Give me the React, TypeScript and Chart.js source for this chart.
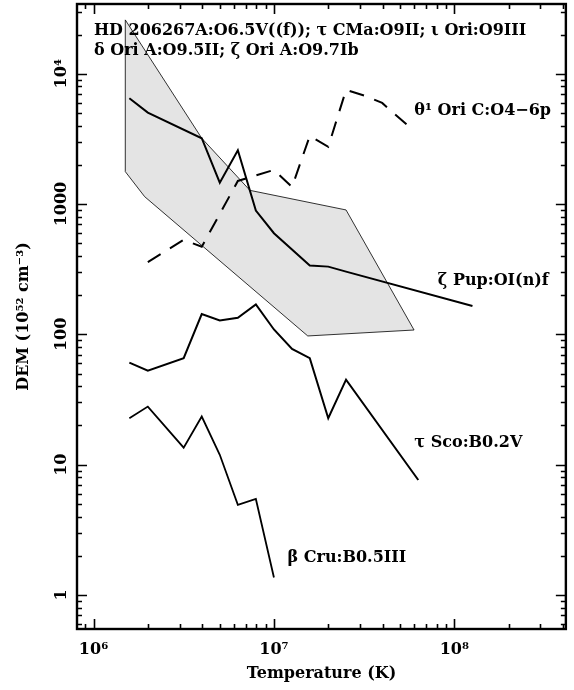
import React, { useEffect, useRef } from 'react';
import { Chart, registerables } from 'chart.js';

Chart.register(...registerables);

// ---------- data (temperature in K, DEM in 10^52 cm^-3) ----------
const zetaPupT = [1.58e6, 2.0e6, 3.98e6, 5.01e6, 6.31e6, 7.94e6, 1.0e7, 1.58e7, 2.0e7, 2.51e7, 1.26e8];
const zetaPupDEM = [6490, 5030, 3200, 1460, 2590, 890, 597, 337, 331, 303, 165];

const theta1OriCT = [2.0e6, 3.16e6, 3.98e6, 6.31e6, 1.0e7, 1.26e7, 1.58e7, 2.0e7, 2.51e7, 3.16e7, 3.98e7, 5.72e7];
const theta1OriCDEM = [359, 531, 470, 1504, 1828, 1353, 3335, 2750, 7510, 6810, 5970, 3840];

const tauScoT = [1.58e6, 2.0e6, 3.16e6, 3.98e6, 5.01e6, 6.31e6, 7.94e6, 1.0e7, 1.26e7, 1.58e7, 2.0e7, 2.51e7, 6.31e7];
const tauScoDEM = [60.6, 52.6, 65.6, 143, 128, 134, 170, 109, 77.3, 65.6, 22.7, 44.9, 7.63];

const betaCruT = [1.58e6, 2.0e6, 3.16e6, 3.98e6, 5.01e6, 6.31e6, 7.94e6, 1.0e7];
const betaCruDEM = [22.7, 27.9, 13.5, 23.4, 11.9, 4.91, 5.45, 1.36];

// envelope of HD 206267A, τ CMa, ι Ori, δ Ori A, ζ Ori A (closed polygon)
const bandT = [1.5e6, 3.98e6, 7.36e6, 2.51e7, 5.98e7, 1.54e7, 1.92e6, 1.5e6, 1.5e6];
const bandDEM = [25900, 3200, 1274, 901, 108, 97.2, 1140, 1774, 25900];

// series labels, anchored (left edge, vertical middle) in data coordinates
const labelTexts = ['θ¹ Ori C:O4−6p', 'ζ Pup:OI(n)f', 'τ Sco:B0.2V', 'β Cru:B0.5III'];
const labelT = [6.0e7, 8.1e7, 6.0e7, 1.19e7];
const labelDEM = [5180, 257, 14.7, 1.92];

const titleLines = [
  'HD 206267A:O6.5V((f)); τ CMa:O9II; ι Ori:O9III',
  'δ Ori A:O9.5II; ζ Ori A:O9.7Ib',
];

const xTitle = 'Temperature (K)';
const yTitle = 'DEM (10⁵² cm⁻³)';

const X_MIN = 8.1e5;
const X_MAX = 4.15e8;
const Y_MIN = 0.548;
const Y_MAX = 34300;

// ---------- helpers ----------
const FAMILY = '"DejaVu Serif", "Liberation Serif", serif';
const SUP: Record<string, string> = {
  '0': '⁰', '1': '¹', '2': '²', '3': '³', '4': '⁴', '5': '⁵', '6': '⁶', '7': '⁷', '8': '⁸', '9': '⁹', '-': '⁻',
};
const sup = (s: string) => s.split('').map((c) => SUP[c] ?? c).join('');

const isPow10 = (v: number) => {
  const e = Math.round(Math.log10(v));
  return Math.abs(v - Math.pow(10, e)) / Math.pow(10, e) < 1e-9;
};

const logTicks = (min: number, max: number) => {
  const out: { value: number; major: boolean }[] = [];
  for (let e = Math.floor(Math.log10(min)); e <= Math.ceil(Math.log10(max)); e++) {
    for (let m = 1; m <= 9; m++) {
      const v = m * Math.pow(10, e);
      if (v >= min * 0.999999 && v <= max * 1.000001) out.push({ value: v, major: m === 1 });
    }
  }
  return out;
};

const pts = (T: number[], D: number[]) => T.map((t, i) => ({ x: t, y: D[i] }));

const framePlugin = {
  id: 'frameTicks',
  afterDatasetsDraw(chart: any) {
    const { ctx, chartArea, scales } = chart;
    const { left, right, top, bottom } = chartArea;
    const xs = scales.x;
    const ys = scales.y;
    ctx.save();
    ctx.strokeStyle = '#000';
    ctx.lineWidth = 1.6;
    ctx.beginPath();
    for (const t of xs.ticks) {
      const px = Math.round(xs.getPixelForValue(t.value)) + 0.5;
      if (px <= left + 1 || px >= right - 1) continue;
      const len = isPow10(t.value) ? 10 : 5;
      ctx.moveTo(px, bottom);
      ctx.lineTo(px, bottom - len);
      ctx.moveTo(px, top);
      ctx.lineTo(px, top + len);
    }
    for (const t of ys.ticks) {
      const py = Math.round(ys.getPixelForValue(t.value)) + 0.5;
      if (py <= top + 1 || py >= bottom - 1) continue;
      const len = isPow10(t.value) ? 10 : 5;
      ctx.moveTo(left, py);
      ctx.lineTo(left + len, py);
      ctx.moveTo(right, py);
      ctx.lineTo(right - len, py);
    }
    ctx.stroke();
    ctx.lineWidth = 2.4;
    ctx.strokeRect(left, top, right - left, bottom - top);
    ctx.restore();
  },
};

const textPlugin = {
  id: 'textLabels',
  afterDraw(chart: any) {
    const { ctx, chartArea, scales } = chart;
    ctx.save();
    ctx.fillStyle = '#000';
    ctx.font = `bold 16px ${FAMILY}`;
    ctx.textAlign = 'left';
    ctx.textBaseline = 'alphabetic';
    titleLines.forEach((line, i) => {
      ctx.fillText(line, chartArea.left + 17, chartArea.top + 31 + i * 20);
    });
    ctx.textBaseline = 'middle';
    labelTexts.forEach((txt, i) => {
      const x = scales.x.getPixelForValue(labelT[i]);
      const y = scales.y.getPixelForValue(labelDEM[i]);
      ctx.fillText(txt, x, y);
    });
    ctx.restore();
  },
};

export default function App() {
  const ref = useRef<HTMLCanvasElement | null>(null);

  useEffect(() => {
    if (!ref.current) return;
    const tickFont = { family: FAMILY, size: 16, weight: 'bold' };
    const chart = new Chart(ref.current, {
      type: 'line',
      data: {
        datasets: [
          {
            label: 'O-star envelope',
            data: pts(bandT, bandDEM),
            borderColor: '#000',
            borderWidth: 0.8,
            backgroundColor: '#e4e4e4',
            fill: 'shape',
            pointRadius: 0,
            order: 10,
          },
          {
            label: 'ζ Pup',
            data: pts(zetaPupT, zetaPupDEM),
            borderColor: '#000',
            borderWidth: 2,
            pointRadius: 0,
            fill: false,
            order: 1,
          },
          {
            label: 'θ¹ Ori C',
            data: pts(theta1OriCT, theta1OriCDEM),
            borderColor: '#000',
            borderWidth: 2,
            borderDash: [15, 11],
            pointRadius: 0,
            fill: false,
            order: 1,
          },
          {
            label: 'τ Sco',
            data: pts(tauScoT, tauScoDEM),
            borderColor: '#000',
            borderWidth: 2,
            pointRadius: 0,
            fill: false,
            order: 1,
          },
          {
            label: 'β Cru',
            data: pts(betaCruT, betaCruDEM),
            borderColor: '#000',
            borderWidth: 1.8,
            pointRadius: 0,
            fill: false,
            order: 1,
          },
        ],
      },
      options: {
        responsive: false,
        animation: false,
        devicePixelRatio: 1,
        layout: { padding: { left: 0, right: 3, top: 4, bottom: 0 } },
        elements: { line: { tension: 0 }, point: { radius: 0 } },
        plugins: {
          legend: { display: false },
          tooltip: { enabled: false },
          title: { display: false },
        },
        scales: {
          x: {
            type: 'logarithmic',
            position: 'bottom',
            min: X_MIN,
            max: X_MAX,
            afterBuildTicks: (s: any) => {
              s.ticks = logTicks(X_MIN, X_MAX);
            },
            afterFit: (s: any) => {
              s.height = 61;
            },
            grid: { display: false, drawTicks: false },
            border: { display: false },
            ticks: {
              autoSkip: false,
              maxRotation: 0,
              minRotation: 0,
              padding: 11,
              color: '#000',
              font: tickFont,
              callback: (v: any) => {
                const n = Number(v);
                return isPow10(n) ? '10' + sup(String(Math.round(Math.log10(n)))) : '';
              },
            },
            title: {
              display: true,
              text: xTitle,
              color: '#000',
              font: { family: FAMILY, size: 16, weight: 'bold' },
              padding: { top: 0, bottom: 7 },
            },
          },
          y: {
            type: 'logarithmic',
            position: 'left',
            min: Y_MIN,
            max: Y_MAX,
            afterBuildTicks: (s: any) => {
              s.ticks = logTicks(Y_MIN, Y_MAX);
            },
            afterFit: (s: any) => {
              s.width = 77;
            },
            grid: { display: false, drawTicks: false },
            border: { display: false },
            ticks: {
              autoSkip: false,
              minRotation: 90,
              maxRotation: 90,
              crossAlign: 'center',
              padding: -7,
              color: '#000',
              font: tickFont,
              callback: (v: any) => {
                const n = Number(v);
                if (!isPow10(n)) return '';
                const e = Math.round(Math.log10(n));
                return e <= 3 ? String(Math.pow(10, e)) : '10' + sup(String(e));
              },
            },
            title: {
              display: true,
              text: yTitle,
              color: '#000',
              font: { family: FAMILY, size: 16, weight: 'bold' },
              padding: { top: 14, bottom: 0 },
            },
          },
        },
      } as any,
      plugins: [framePlugin, textPlugin],
    });
    return () => chart.destroy();
  }, []);

  return (
    <div style={{ position: 'absolute', left: 0, top: 0, width: 574, height: 690, background: '#fff' }}>
      <canvas ref={ref} width={574} height={690} style={{ display: 'block' }} />
    </div>
  );
}
